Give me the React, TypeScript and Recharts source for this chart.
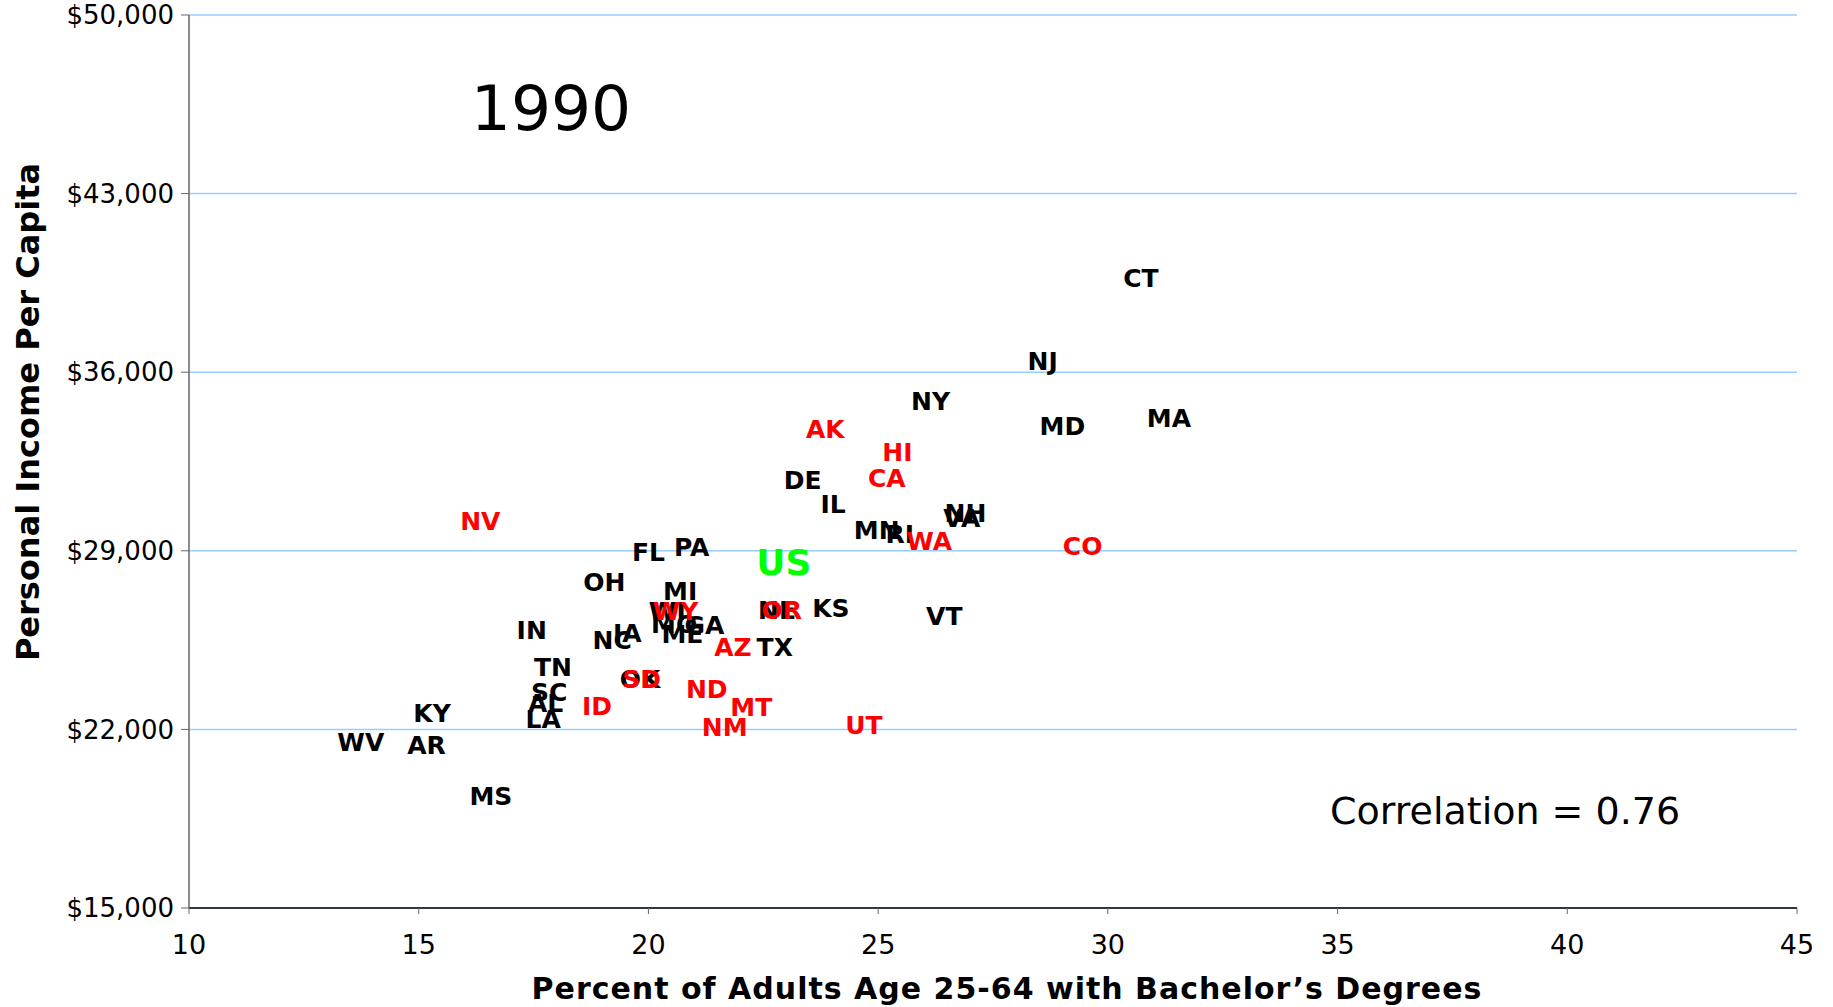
import React from 'react';
import { ScatterChart, Scatter, XAxis, YAxis, CartesianGrid, Customized } from 'recharts';

const stateCodes = ['CT','NJ','NY','MD','MA','AK','HI','CA','DE','IL','NH','VA','MN','RI','WA','CO','NV','PA','FL','OH','MI','WI','WY','KS','NE','OR','VT','IN','GA','MO','IA','NC','ME','AZ','TX','TN','OK','SD','ND','SC','AL','ID','MT','KY','LA','NM','UT','WV','AR','MS'];
const bachelorPct = [30.72,28.58,26.14,29.01,31.33,23.85,25.42,25.19,23.36,24.02,26.90,26.82,24.97,25.47,26.11,29.45,16.34,20.94,20.00,19.04,20.69,20.41,20.59,23.97,22.80,22.90,26.44,17.46,21.22,20.56,19.54,19.21,20.74,21.84,22.75,17.92,19.82,19.85,21.27,17.84,17.76,18.88,22.24,15.29,17.71,21.66,24.69,13.74,15.17,16.57];
const incomePerCapita = [39690,36440,34880,33880,34200,33780,32870,31860,31770,30850,30490,30300,29800,29660,29390,29200,30160,29160,28970,27780,27420,26640,26640,26770,26680,26680,26450,25900,26090,26130,25770,25490,25720,25220,25220,24440,23980,23980,23570,23480,23020,22930,22880,22650,22420,22100,22190,21510,21370,19400];
const redStates = ['AK','HI','CA','WA','CO','NV','WY','OR','AZ','SD','ND','ID','MT','NM','UT'];
const usCode = 'US';
const usPct = 22.95;
const usIncome = 28560;

const xTicks = [10, 15, 20, 25, 30, 35, 40, 45];
const yTicks = [15000, 22000, 29000, 36000, 43000, 50000];

const allStates = stateCodes.map((code, i) => ({ code, x: bachelorPct[i], y: incomePerCapita[i] }));
const blackData = allStates.filter(d => !redStates.includes(d.code));
const redData = allStates.filter(d => redStates.includes(d.code));
const usData = [{ code: usCode, x: usPct, y: usIncome }];

const FONT = '"DejaVu Sans", Verdana, sans-serif';

const makeShape = (color: string, size: number) => (props: any) => {
  const { cx, cy, payload } = props;
  return (
    <text x={cx} y={cy} dy="0.36em" textAnchor="middle" fill={color}
      fontFamily={FONT} fontWeight="bold" fontSize={size}>{payload.code}</text>
  );
};

const W = 1833;
const H = 1007;

const Extras = () => (
  <g>
    <text x={551} y={107} dy="0.36em" textAnchor="middle" fontFamily={FONT} fontSize={63} fill="#000">1990</text>
    <text x={1330} y={810} dy="0.36em" textAnchor="start" fontFamily={FONT} fontSize={38} fill="#000">Correlation = 0.76</text>
    <text x={1007} y={988} dy="0.36em" textAnchor="middle" fontFamily={FONT} fontWeight="bold" fontSize={30} letterSpacing={1} fill="#000">Percent of Adults Age 25-64 with Bachelor’s Degrees</text>
    <text x={27} y={412} dy="0.36em" textAnchor="middle" fontFamily={FONT} fontWeight="bold" fontSize={32} fill="#000" transform="rotate(-90 27 412)">Personal Income Per Capita</text>
  </g>
);

export default function App() {
  return (
    <div style={{ position: 'absolute', left: 0, top: 0, width: W, height: H, overflow: 'hidden' }}>
      <ScatterChart width={W} height={H} margin={{ top: 15, right: 36, left: 0, bottom: 0 }}>
        <CartesianGrid horizontal={true} vertical={false} stroke="#99CCFF" strokeWidth={1.5} />
        <XAxis type="number" dataKey="x" domain={[10, 45]} ticks={xTicks} interval={0}
          allowDataOverflow height={99}
          axisLine={{ stroke: '#000', strokeWidth: 1.5 }} tickLine={{ stroke: '#666' }} tickSize={6} tickMargin={21}
          tick={{ fill: '#000', fontSize: 27, fontFamily: FONT }} />
        <YAxis type="number" dataKey="y" domain={[15000, 50000]} ticks={yTicks} interval={0}
          allowDataOverflow width={189}
          axisLine={{ stroke: '#666', strokeWidth: 1.5 }} tickLine={{ stroke: '#666' }} tickSize={8} tickMargin={7}
          tickFormatter={(v: number) => '$' + v.toLocaleString('en-US')}
          tick={{ fill: '#000', fontSize: 26, fontFamily: FONT }} />
        <Scatter data={blackData} isAnimationActive={false} shape={makeShape('#000000', 25)} />
        <Scatter data={redData} isAnimationActive={false} shape={makeShape('#FF0000', 25)} />
        <Scatter data={usData} isAnimationActive={false} shape={makeShape('#00FF00', 36)} />
        <Customized component={Extras} />
      </ScatterChart>
    </div>
  );
}
